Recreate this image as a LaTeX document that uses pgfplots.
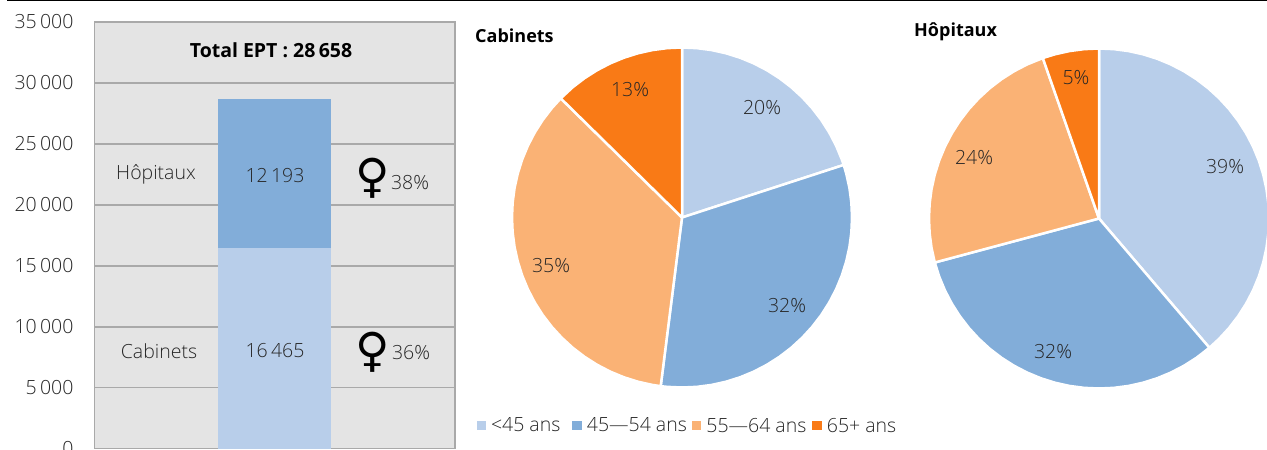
\documentclass[border=0pt]{standalone}
\usepackage{fontspec}
\setmainfont{Open Sans Light}[BoldFont={Open Sans Bold}]
\newfontfamily\symfont{DejaVu Sans}
\usepackage{pgfplots}
\usepgfplotslibrary{polar}
\pgfplotsset{compat=1.18}

\definecolor{lblue}{HTML}{B8CEEA}
\definecolor{mblue}{HTML}{82ADD9}
\definecolor{lorange}{HTML}{FAB275}
\definecolor{dorange}{HTML}{F97A16}
\definecolor{panel}{HTML}{E4E4E4}
\definecolor{gridc}{HTML}{A9A9A9}
\definecolor{txt}{HTML}{262626}

\newcommand{\lab}{\fontsize{19.5}{22}\selectfont}
\newcommand{\ttl}{\fontsize{18}{21}\selectfont}

\pgfplotsset{
  pie/.style={
    hide axis, scale only axis, width=340pt, height=340pt,
    xmin=0, xmax=360, ymin=0, ymax=1, clip=false,
  },
  slice/.style={fill=#1, draw=white, line width=2.5pt, line join=round},
}

\begin{document}
\begin{tikzpicture}
\path[use as bounding box] (0pt,0pt) rectangle (1267pt,450pt);
\clip (0pt,0pt) rectangle (1267pt,450pt);

\draw[black,line width=1.6pt] (7pt,449.5pt) -- (1267pt,449.5pt);

% stacked bar
\begin{axis}[
    at={(94.7pt,1.3pt)}, anchor=south west,
    scale only axis, width=360.3pt, height=426.7pt,
    xmin=0, xmax=1, ymin=0, ymax=35000,
    ytick={0,5000,10000,15000,20000,25000,30000,35000},
    xtick=\empty,
    ymajorgrids, grid style={gridc,line width=1.5pt},
    axis line style={gridc,line width=1.5pt},
    major tick length=0pt,
    axis background/.style={fill=panel},
    /pgf/number format/.cd, assume math mode=true, 1000 sep={\,},
    /pgfplots/.cd,
    scaled y ticks=false,
    yticklabel style={font=\lab,text=txt,inner sep=0pt,xshift=-21pt},
    ybar stacked, bar width=113pt,
  ]
  \addplot[fill=lblue,draw=none] coordinates {(0.5,16465)};
  \addplot[fill=mblue,draw=none] coordinates {(0.5,12193)};
\end{axis}

% Cabinets
\begin{polaraxis}[
    pie, at={(682pt,232.5pt)}, anchor=center,
    legend columns=4,
    legend style={at={(-0.105,-0.083)},anchor=north west,draw=none,fill=none,font=\lab,text=txt,
      inner sep=0pt,
      /tikz/every odd column/.append style={column sep=3pt},
      /tikz/every even column/.append style={column sep=3pt}},
    legend cell align=left,
    legend image code/.code={\fill[#1,draw=none] (0pt,-4.7pt) rectangle (9.5pt,4.7pt);},
  ]
  \addplot[slice=lblue] coordinates {(0,0) (18,1) (20,1) (25,1) (30,1) (35,1) (40,1) (45,1) (50,1) (55,1) (60,1) (65,1) (70,1) (75,1) (80,1) (85,1) (90,1)} -- cycle;
  \addplot[slice=mblue] coordinates {(0,0) (-97.2,1) (-95,1) (-90,1) (-85,1) (-80,1) (-75,1) (-70,1) (-65,1) (-60,1) (-55,1) (-50,1) (-45,1) (-40,1) (-35,1) (-30,1) (-25,1) (-20,1) (-15,1) (-10,1) (-5,1) (0,1) (5,1) (10,1) (15,1) (18,1)} -- cycle;
  \addplot[slice=lorange] coordinates {(0,0) (135.5,1) (140,1) (145,1) (150,1) (155,1) (160,1) (165,1) (170,1) (175,1) (180,1) (185,1) (190,1) (195,1) (200,1) (205,1) (210,1) (215,1) (220,1) (225,1) (230,1) (235,1) (240,1) (245,1) (250,1) (255,1) (260,1) (262.8,1)} -- cycle;
  \addplot[slice=dorange] coordinates {(0,0) (90,1) (95,1) (100,1) (105,1) (110,1) (115,1) (120,1) (125,1) (130,1) (135.5,1)} -- cycle;
  \legend{<45 ans\rule{7pt}{0pt},45---54 ans,55---64 ans\rule{1pt}{0pt},65+ ans}
\end{polaraxis}

% Hopitaux
\begin{polaraxis}[pie, at={(1099pt,231.5pt)}, anchor=center]
  \addplot[slice=lblue] coordinates {(0,0) (-49.5,1) (-45,1) (-40,1) (-35,1) (-30,1) (-25,1) (-20,1) (-15,1) (-10,1) (-5,1) (0,1) (5,1) (10,1) (15,1) (20,1) (25,1) (30,1) (35,1) (40,1) (45,1) (50,1) (55,1) (60,1) (65,1) (70,1) (75,1) (80,1) (85,1) (90,1)} -- cycle;
  \addplot[slice=mblue] coordinates {(0,0) (-165,1) (-160,1) (-155,1) (-150,1) (-145,1) (-140,1) (-135,1) (-130,1) (-125,1) (-120,1) (-115,1) (-110,1) (-105,1) (-100,1) (-95,1) (-90,1) (-85,1) (-80,1) (-75,1) (-70,1) (-65,1) (-60,1) (-55,1) (-49.5,1)} -- cycle;
  \addplot[slice=lorange] coordinates {(0,0) (109.3,1) (115,1) (120,1) (125,1) (130,1) (135,1) (140,1) (145,1) (150,1) (155,1) (160,1) (165,1) (170,1) (175,1) (180,1) (185,1) (190,1) (195,1)} -- cycle;
  \addplot[slice=dorange] coordinates {(0,0) (90,1) (95,1) (100,1) (105,1) (109.3,1)} -- cycle;
\end{polaraxis}

% text, positions in reference pixels from the top left
\begin{scope}[x=1pt,y=-1pt,yshift=449.3pt]
\tikzset{lbl/.style={font=\lab,text=txt,inner sep=0pt}}
\node[lbl,text=black] at (271,50) {\textbf{Total EPT : 28\,658}};
\node[lbl] at (156,174) {Hôpitaux};
\node[lbl] at (159,350) {Cabinets};
\node[lbl] at (275,175) {12\,193};
\node[lbl] at (275,350) {16\,465};
\node[lbl] at (410,182) {38\%};
\node[lbl] at (411,352) {36\%};
\node[inner sep=0pt,font=\symfont\fontsize{47}{49}\selectfont,text=black] at (372.7,178) {♀};
\node[inner sep=0pt,font=\symfont\fontsize{47}{49}\selectfont,text=black] at (372.7,352) {♀};
\node[lbl,font=\ttl,text=black,anchor=west] at (475,35.5) {\textbf{Cabinets}};
\node[lbl,font=\ttl,text=black,anchor=west] at (914,31) {\textbf{Hôpitaux}};
\node[lbl] at (762,107) {20\%};
\node[lbl] at (630,89) {13\%};
\node[lbl] at (787,305) {32\%};
\node[lbl] at (551,265) {35\%};
\node[lbl] at (1225,166) {39\%};
\node[lbl] at (1053,351) {32\%};
\node[lbl] at (974,157) {24\%};
\node[lbl] at (1076,77) {5\%};
\end{scope}
\end{tikzpicture}
\end{document}
